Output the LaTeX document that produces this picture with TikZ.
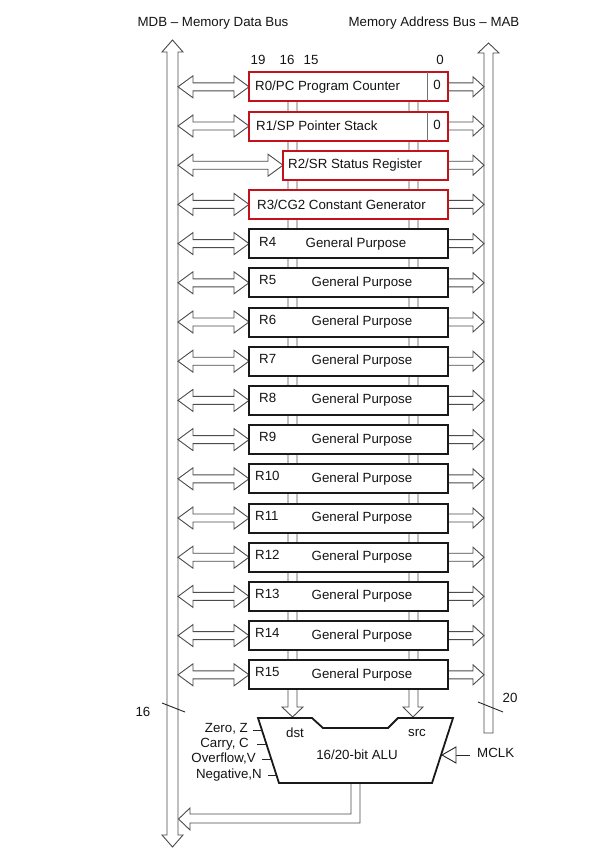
\documentclass[tikz,border=0pt]{standalone}
\usepackage{fontspec}
\setmainfont{Liberation Sans}
\definecolor{regred}{RGB}{196,18,26}
\definecolor{busgray}{RGB}{75,75,75}
\begin{document}
\begin{tikzpicture}[x=1pt,y=-1pt,
  reg/.style={draw, line width=2pt, fill=white, minimum height=29pt, inner sep=0pt, outer sep=0pt},
  redreg/.style={reg, draw=regred},
  blkreg/.style={reg, draw=black!90},
  lbl/.style={font=\fontsize{13.3}{15}\selectfont, inner sep=0pt, text=black!92},
  busline/.style={draw=busgray, line width=0.9pt, fill=white, line join=miter},
  alu/.style={draw=black!90, line width=1.8pt, fill=white, line join=miter},
  tick/.style={draw=black!85, line width=0.9pt}]
\useasboundingbox (0,0) rectangle (611,859);

% ---- buses
\path[busline] (167,52) -- (162,52) -- (172.5,40) -- (183,52) -- (178,52) -- (178,835)
  -- (183,835) -- (172.5,847) -- (162,835) -- (167,835) -- cycle;
\path[busline] (484,733) -- (484,53) -- (478,53) -- (488.5,43) -- (499,53) -- (493,53) -- (493,733) -- cycle;

% bus labels
\node[lbl] (tmdb) at (213,23) {MDB -- Memory Data Bus};
\node[lbl] (tmab) at (434,23) {Memory Address Bus -- MAB};
\node[lbl] (b19) at (258,60) {19};
\node[lbl] (b16) at (287,60) {16};
\node[lbl] (b15) at (311,60) {15};
\node[lbl] (b0) at (440,60) {0};

% ---- internal dst/src lines with arrows into ALU
\path[busline] (288,101) -- (288,707) -- (282,707) -- (292.5,717) -- (303,707) -- (297,707) -- (297,101);
\path[busline] (409,101) -- (409,707) -- (403,707) -- (413,717) -- (423,707) -- (418,707) -- (418,101);

% ---- registers
\foreach \i/\nm/\mylx/\myrx/\sty in {0/r0/249/448/redreg,1/r1/249/448/redreg,2/r2/283/448/redreg,3/r3/249/448/redreg,
  4/r4/249/448/blkreg,5/r5/249/448/blkreg,6/r6/249/448/blkreg,7/r7/249/448/blkreg,8/r8/249/448/blkreg,
  9/r9/249/448/blkreg,10/r10/249/448/blkreg,11/r11/249/448/blkreg,12/r12/249/448/blkreg,13/r13/249/448/blkreg,
  14/r14/249/448/blkreg,15/r15/249/448/blkreg}{
  \pgfmathsetmacro{\myyc}{86.8+39.2*\i}
  \pgfmathsetmacro{\regw}{\myrx-\mylx}
  \pgfmathsetmacro{\myxc}{(\myrx+\mylx)/2}
  \node[\sty, minimum width=\regw pt] (\nm) at (\myxc,\myyc) {};
  % left double-headed arrow (MDB <-> register)
  \path[busline] (178,\myyc) -- (193,\myyc-11) -- (193,\myyc-4) -- (\mylx-15,\myyc-4) -- (\mylx-15,\myyc-11)
    -- (\mylx,\myyc) -- (\mylx-15,\myyc+11) -- (\mylx-15,\myyc+4) -- (193,\myyc+4) -- (193,\myyc+11) -- cycle;
  % right arrow (register -> MAB)
  \path[busline] (\myrx+1,\myyc-4) -- (473,\myyc-4) -- (473,\myyc-10) -- (484,\myyc) -- (473,\myyc+10) -- (473,\myyc+4) -- (\myrx+1,\myyc+4);
}
% redraw register outlines above arrow joints
\foreach \nm in {r0,r1,r2,r3}{
  \draw[draw=regred, line width=2pt] (\nm.north west) rectangle (\nm.south east);
}
\foreach \nm in {r4,r5,r6,r7,r8,r9,r10,r11,r12,r13,r14,r15}{
  \draw[draw=black!90, line width=2pt] (\nm.north west) rectangle (\nm.south east);
}

% constant-zero cells
\draw[draw=black!55, line width=0.9pt] ([xshift=-21pt]r0.north east) -- ([xshift=-21pt]r0.south east);
\draw[draw=black!55, line width=0.9pt] ([xshift=-21pt]r1.north east) -- ([xshift=-21pt]r1.south east);
\node[lbl] (z0) at ([xshift=-11pt,yshift=1.5pt]r0.east) {0};
\node[lbl] (z1) at ([xshift=-11pt,yshift=1.5pt]r1.east) {0};

% register texts
\node[lbl, anchor=west] (t0) at ([xshift=6pt]r0.west) {R0/PC Program Counter};
\node[lbl, anchor=west] (t1) at ([xshift=7pt]r1.west) {R1/SP Pointer Stack};
\node[lbl, anchor=west] (t2) at ([xshift=5pt]r2.west) {R2/SR Status Register};
\node[lbl, anchor=west] (t3) at ([xshift=8pt]r3.west) {R3/CG2 Constant Generator};
\node[lbl, anchor=west] (n4) at ([xshift=10pt,yshift=2pt]r4.west) {R4};
\node[lbl] (g4) at ([xshift=-92pt]r4.east) {General Purpose};
\foreach \k in {5,...,9}{
  \node[lbl, anchor=west] (n\k) at ([xshift=10pt,yshift=2.5pt]r\k.west) {R\k};
  \node[lbl] (g\k) at ([xshift=-86pt]r\k.east) {General Purpose};
}
\foreach \k in {10,...,15}{
  \node[lbl, anchor=west] (n\k) at ([xshift=6pt,yshift=2.5pt]r\k.west) {R\k};
  \node[lbl] (g\k) at ([xshift=-86pt]r\k.east) {General Purpose};
}

% ---- ALU
\path[alu] (258,718) -- (312,718) -- (323,728) -- (388,728) -- (398,718) -- (453,718) -- (432,783) -- (279,783) -- cycle;
\node[lbl] (dst) at (295,733) {dst};
\node[lbl] (src) at (417,733) {src};
\node[lbl] (alut) at (357,755) {16/20-bit ALU};

% MCLK
\node[lbl, anchor=west] (mclk) at (477,753) {MCLK};
\draw[tick] (470,755) -- (456,755);
\draw[draw=black!85, line width=0.9pt, fill=white, line join=miter] (456,747) -- (442,755) -- (456,763) -- cycle;

% status flags
\node[lbl, anchor=east] (fz) at (248,729) {Zero, Z};
\node[lbl, anchor=east] (fc) at (249,744) {Carry, C};
\node[lbl, anchor=east] (fv) at (256,759) {Overflow,V};
\node[lbl, anchor=east] (fn) at (262,775) {Negative,N};
\draw[tick] (253,730) -- (261.9,730);
\draw[tick] (257,744) -- (266.4,744);
\draw[tick] (262,759) -- (271.2,759);
\draw[tick] (268,775) -- (276.4,775);

% ALU output back to MDB
\path[busline] (351,784) -- (351,814) -- (190,814) -- (190,808) -- (178.5,819) -- (190,830) -- (190,823) -- (360,823) -- (360,784);

% bus width marks
\draw[tick] (162,703) -- (185,712);
\node[lbl] (w16) at (143,712) {16};
\draw[tick] (478,702) -- (503,712);
\node[lbl] (w20) at (510,698) {20};
\end{tikzpicture}
\end{document}
